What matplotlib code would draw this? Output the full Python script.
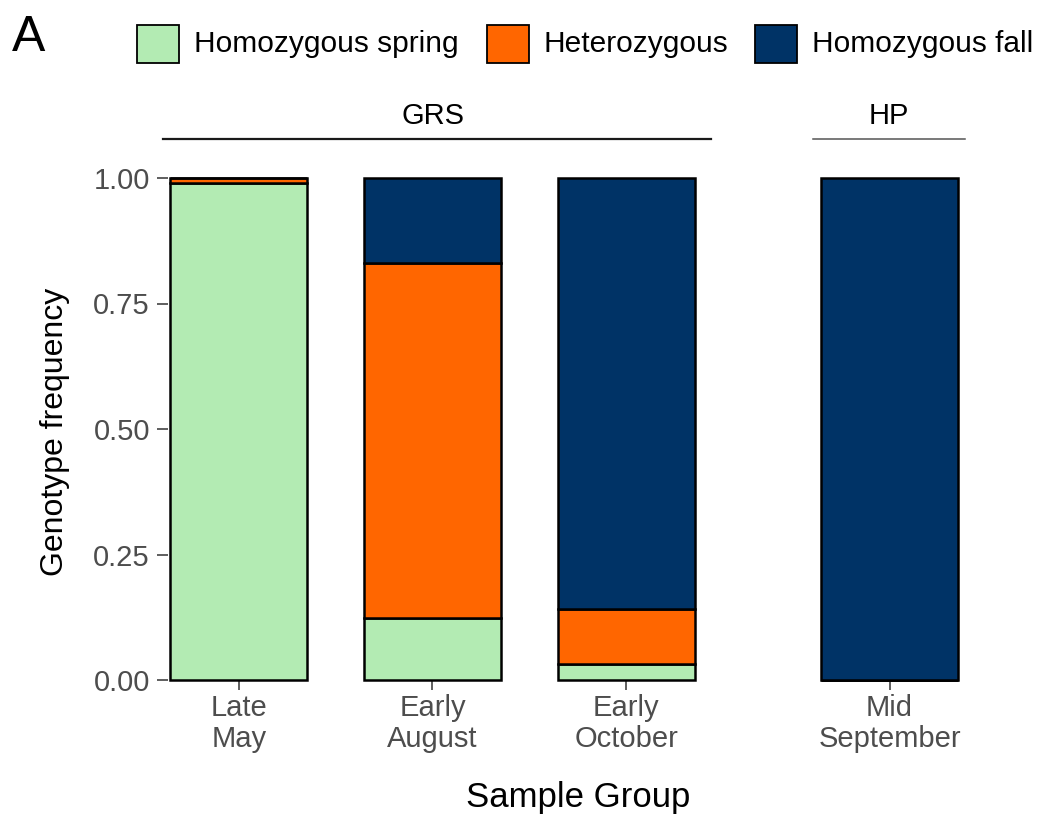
import matplotlib
matplotlib.use("Agg")
import matplotlib.pyplot as plt
from matplotlib.patches import Rectangle
from matplotlib.lines import Line2D

plt.rcParams['font.family'] = ['Liberation Sans', 'DejaVu Sans']

# ---- data ----
grs_groups = ["Late\nMay", "Early\nAugust", "Early\nOctober"]
hp_groups = ["Mid\nSeptember"]
genotypes = ["Homozygous spring", "Heterozygous", "Homozygous fall"]
colors = ["#B3EBB3", "#FF6600", "#003366"]

grs_spring = [0.990, 0.124, 0.032]
grs_het = [0.010, 0.707, 0.109]
grs_fall = [0.000, 0.169, 0.859]

hp_spring = [0.0]
hp_het = [0.0]
hp_fall = [1.0]

yticks = [0.0, 0.25, 0.5, 0.75, 1.0]
ytick_labels = ["0.00", "0.25", "0.50", "0.75", "1.00"]

W, H = 1046, 815
fig = plt.figure(figsize=(W / 100, H / 100), dpi=100)


def px_rect(x0, x1, y_top, y_bot):
    return [x0 / W, 1 - y_bot / H, (x1 - x0) / W, (y_bot - y_top) / H]


ax1 = fig.add_axes(px_rect(168, 697, 178, 680))
ax2 = fig.add_axes(px_rect(819, 960, 178, 680))

bar_w = 0.707


def draw(ax, groups, sp, he, fa):
    x = list(range(len(groups)))
    bottom = [0.0] * len(groups)
    for vals, col in zip([sp, he, fa], colors):
        ax.bar(x, vals, width=bar_w, bottom=bottom, color=col,
               edgecolor="black", linewidth=1.8, clip_on=False, zorder=3)
        bottom = [b + v for b, v in zip(bottom, vals)]
    ax.set_xticks(x)
    ax.set_xticklabels(groups, linespacing=1.12)
    ax.set_ylim(0, 1)
    for s in ax.spines.values():
        s.set_visible(False)
    ax.tick_params(axis="x", length=7, width=1.1, color="#333333",
                   labelsize=21, labelcolor="#4D4D4D", pad=3)


draw(ax1, grs_groups, grs_spring, grs_het, grs_fall)
draw(ax2, hp_groups, hp_spring, hp_het, hp_fall)
ax1.set_xlim(-0.365, 2.365)
ax2.set_xlim(-0.365, 0.365)

ax1.set_yticks(yticks)
ax1.set_yticklabels(ytick_labels)
ax1.tick_params(axis="y", length=8, width=1.1, color="#333333",
                labelsize=21, labelcolor="#4D4D4D", pad=5)
ax2.set_yticks([])

fig.text(55 / W, 1 - 432 / H, "Genotype frequency", fontsize=23,
         rotation=90, ha="center", va="center")
fig.text(578 / W, 1 - 797 / H, "Sample Group", fontsize=25,
         ha="center", va="center")

# strips
fig.add_artist(Line2D([163 / W, 711 / W], [1 - 139 / H] * 2,
                      color="#1a1a1a", lw=1.6))
fig.add_artist(Line2D([813 / W, 965 / W], [1 - 139 / H] * 2,
                      color="#555555", lw=1.1))
fig.text(433 / W, 1 - 116 / H, "GRS", fontsize=21, ha="center", va="center")
fig.text(889 / W, 1 - 116 / H, "HP", fontsize=21, ha="center", va="center")

# panel letter
fig.text(12 / W, 1 - 38 / H, "A", fontsize=36, ha="left", va="center")

# legend
box_x = [137, 487, 755]
for bx, lab, col in zip(box_x, genotypes, colors):
    fig.add_artist(Rectangle((bx / W, 1 - 63 / H), 42 / W, 38 / H,
                             transform=fig.transFigure, facecolor=col,
                             edgecolor="black", linewidth=1.3))
    fig.text((bx + 57) / W, 1 - 44 / H, lab, fontsize=21.5,
             ha="left", va="center")

fig.savefig("out.png", dpi=100)
